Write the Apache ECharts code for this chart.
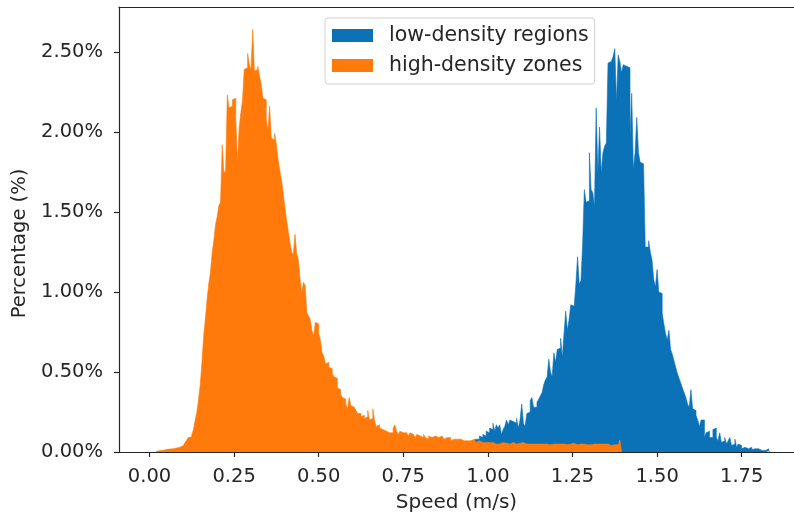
<!DOCTYPE html>
<html>
<head>
<meta charset="utf-8">
<script src="https://cdn.jsdelivr.net/npm/echarts@6/dist/echarts.min.js"></script>
<style>
html,body{margin:0;padding:0;background:#fff;}
#chart{width:794px;height:513px;}
</style>
</head>
<body>
<div id="chart"></div>
<script>
// Histogram data: bin width and left edge of the first bin, heights in percent
const binWidth = 0.005;
const lowStart = 0.94;
const lowValues = [
0.040,0.050,0.060,0.070,0.080,0.090,0.080,0.100,0.090,0.110,
0.100,0.130,0.120,0.150,0.140,0.180,0.130,0.170,0.150,0.170,
0.110,0.140,0.160,0.200,0.170,0.200,0.190,0.200,0.180,0.210,
0.150,0.200,0.300,0.180,0.160,0.240,0.250,0.320,0.340,0.280,
0.280,0.310,0.330,0.350,0.370,0.420,0.450,0.470,0.580,0.500,
0.470,0.620,0.560,0.640,0.650,0.710,0.590,0.740,0.880,0.760,
0.830,0.920,0.910,0.900,1.050,1.220,1.050,1.070,1.300,1.640,
1.560,1.570,1.870,1.640,1.620,1.530,2.150,1.740,2.030,1.740,
1.870,1.910,1.930,2.430,2.440,2.430,2.470,2.520,2.190,2.480,
2.440,2.370,2.420,2.410,2.420,2.400,1.970,2.240,1.760,1.870,
2.090,1.870,1.810,1.800,1.800,1.280,1.280,1.320,1.250,1.200,
1.080,1.030,1.140,1.000,0.990,0.870,0.800,0.740,0.700,0.760,
0.640,0.610,0.570,0.530,0.490,0.460,0.430,0.400,0.370,0.340,
0.300,0.280,0.390,0.270,0.260,0.230,0.200,0.160,0.200,0.200,
0.090,0.120,0.130,0.090,0.090,0.140,0.150,0.090,0.070,0.120,
0.060,0.070,0.090,0.050,0.070,0.090,0.040,0.050,0.080,0.030,
0.050,0.040,0.020,0.030,0.040,0.020,0.020,0.030,0.015,0.020,
0.010,0.020,0.010,0.010,0.020,0.010,0.005,0.020,0.005
];
const highStart = 0.02;
const highValues = [
0.005,0.008,0.010,0.010,0.012,0.015,0.015,0.018,0.020,0.020,
0.022,0.025,0.025,0.030,0.035,0.040,0.045,0.060,0.075,0.090,
0.095,0.110,0.140,0.200,0.250,0.330,0.420,0.560,0.720,0.830,
0.950,1.050,1.120,1.240,1.320,1.420,1.470,1.540,1.560,1.920,
1.740,1.760,2.230,2.150,2.160,2.200,2.210,2.080,1.810,2.030,
2.120,2.200,2.390,2.400,2.490,2.420,2.390,2.640,2.380,2.390,
2.410,2.350,2.300,2.210,2.200,2.080,2.010,2.160,1.960,1.950,
1.990,1.920,1.830,1.760,1.700,1.620,1.530,1.450,1.380,1.310,
1.250,1.230,1.360,1.240,1.200,1.080,0.990,1.060,1.040,0.870,
0.850,0.830,0.760,0.720,0.810,0.800,0.740,0.700,0.620,0.600,
0.550,0.560,0.530,0.520,0.490,0.470,0.460,0.400,0.390,0.360,
0.340,0.330,0.300,0.270,0.340,0.290,0.280,0.290,0.260,0.240,
0.240,0.220,0.230,0.210,0.220,0.260,0.200,0.210,0.270,0.200,
0.160,0.170,0.150,0.140,0.150,0.130,0.140,0.120,0.130,0.120,
0.150,0.170,0.130,0.110,0.130,0.120,0.110,0.120,0.110,0.100,
0.120,0.110,0.100,0.090,0.110,0.100,0.100,0.090,0.110,0.090,
0.080,0.100,0.090,0.080,0.100,0.090,0.090,0.080,0.100,0.090,
0.080,0.090,0.080,0.090,0.070,0.080,0.090,0.080,0.070,0.080,
0.090,0.070,0.080,0.070,0.080,0.070,0.060,0.080,0.070,0.060,
0.070,0.060,0.060,0.070,0.060,0.050,0.060,0.050,0.060,0.050,
0.050,0.060,0.050,0.050,0.060,0.050,0.055,0.060,0.050,0.050,
0.060,0.050,0.050,0.045,0.055,0.050,0.060,0.050,0.050,0.055,
0.050,0.045,0.050,0.055,0.050,0.060,0.050,0.045,0.050,0.055,
0.050,0.050,0.045,0.055,0.050,0.045,0.050,0.060,0.050,0.045,
0.050,0.055,0.045,0.050,0.050,0.045,0.055,0.050,0.045,0.050,
0.050,0.045,0.050,0.055,0.045,0.050,0.045,0.050,0.050,0.045,
0.050,0.045,0.050,0.045,0.050,0.045,0.050,0.045,0.040,0.050,
0.045,0.050,0.045,0.050,0.075
];
const seriesNames = ['low-density regions', 'high-density zones'];
const xTicks = [0, 0.25, 0.5, 0.75, 1.0, 1.25, 1.5, 1.75];
const yTicks = [0, 0.5, 1.0, 1.5, 2.0, 2.5];

function stepPoints(start, values) {
  const pts = values.map((v, i) => [+(start + i * binWidth).toFixed(4), v]);
  pts.push([+(start + values.length * binWidth).toFixed(4), 0]);
  return pts;
}

const FONT = 'DejaVu Sans';
const TXT = '#262626';
const AX = '#262626';
const BLUE = '#0b72b8';
const ORANGE = '#ff7a0a';
const X_MIN = -0.0901, X_MAX = 1.9046;
const chart = echarts.init(document.getElementById('chart'), null, {renderer: 'canvas'});
chart.setOption({
  animation: false,
  backgroundColor: '#ffffff',
  textStyle: {fontFamily: FONT},
  grid: {left: 119, right: 0, top: 7, bottom: 61, containLabel: false, outerBoundsMode: 'none'},
  legend: {
    left: 325, top: 18, orient: 'vertical',
    itemWidth: 41, itemHeight: 13, itemGap: 9,
    padding: [7, 6, 8, 7],
    backgroundColor: 'rgba(255,255,255,0.85)',
    borderColor: '#d0d0d0', borderWidth: 1, borderRadius: 3,
    textStyle: {fontFamily: FONT, fontSize: 20.5, color: TXT, padding: [0, 0, 0, 11]},
    data: [
      {name: seriesNames[0], icon: 'rect', itemStyle: {color: BLUE}},
      {name: seriesNames[1], icon: 'rect', itemStyle: {color: ORANGE}}
    ]
  },
  xAxis: [{
    type: 'value', min: X_MIN, max: X_MAX, position: 'bottom',
    name: 'Speed (m/s)', nameLocation: 'middle', nameGap: 41,
    nameTextStyle: {fontFamily: FONT, fontSize: 20, color: TXT},
    splitLine: {show: false},
    axisLine: {show: true, onZero: false, lineStyle: {color: AX, width: 1.2}},
    axisTick: {show: true, customValues: xTicks, length: 5, lineStyle: {color: AX, width: 1.2}},
    axisLabel: {customValues: xTicks, margin: 15, fontFamily: FONT, fontSize: 19.5, color: TXT,
                formatter: v => v.toFixed(2)}
  }, {
    type: 'value', min: X_MIN, max: X_MAX, position: 'top',
    splitLine: {show: false},
    axisLine: {show: true, onZero: false, lineStyle: {color: AX, width: 1.2}},
    axisTick: {show: false}, axisLabel: {show: false}
  }],
  yAxis: {
    type: 'value', min: 0, max: 2.78,
    name: 'Percentage (%)', nameLocation: 'middle', nameGap: 87,
    nameTextStyle: {fontFamily: FONT, fontSize: 19.5, color: TXT, padding: [0, 28, 0, 0]},
    splitLine: {show: false},
    axisLine: {show: true, onZero: false, lineStyle: {color: AX, width: 1.2}},
    axisTick: {show: true, customValues: yTicks, length: 5, lineStyle: {color: AX, width: 1.2}},
    axisLabel: {customValues: yTicks, margin: 16, fontFamily: FONT, fontSize: 19.5, color: TXT,
                formatter: v => v.toFixed(2) + '%'}
  },
  series: [
    {
      name: seriesNames[0], type: 'line', step: 'end', symbol: 'none', xAxisIndex: 0,
      data: stepPoints(lowStart, lowValues),
      itemStyle: {color: BLUE},
      lineStyle: {width: 0.6, color: BLUE},
      areaStyle: {color: BLUE, opacity: 1},
      z: 2
    },
    {
      name: seriesNames[1], type: 'line', step: 'end', symbol: 'none', xAxisIndex: 0,
      data: stepPoints(highStart, highValues),
      itemStyle: {color: ORANGE},
      lineStyle: {width: 0.6, color: ORANGE},
      areaStyle: {color: ORANGE, opacity: 1},
      z: 3
    }
  ]
});
</script>
</body>
</html>
